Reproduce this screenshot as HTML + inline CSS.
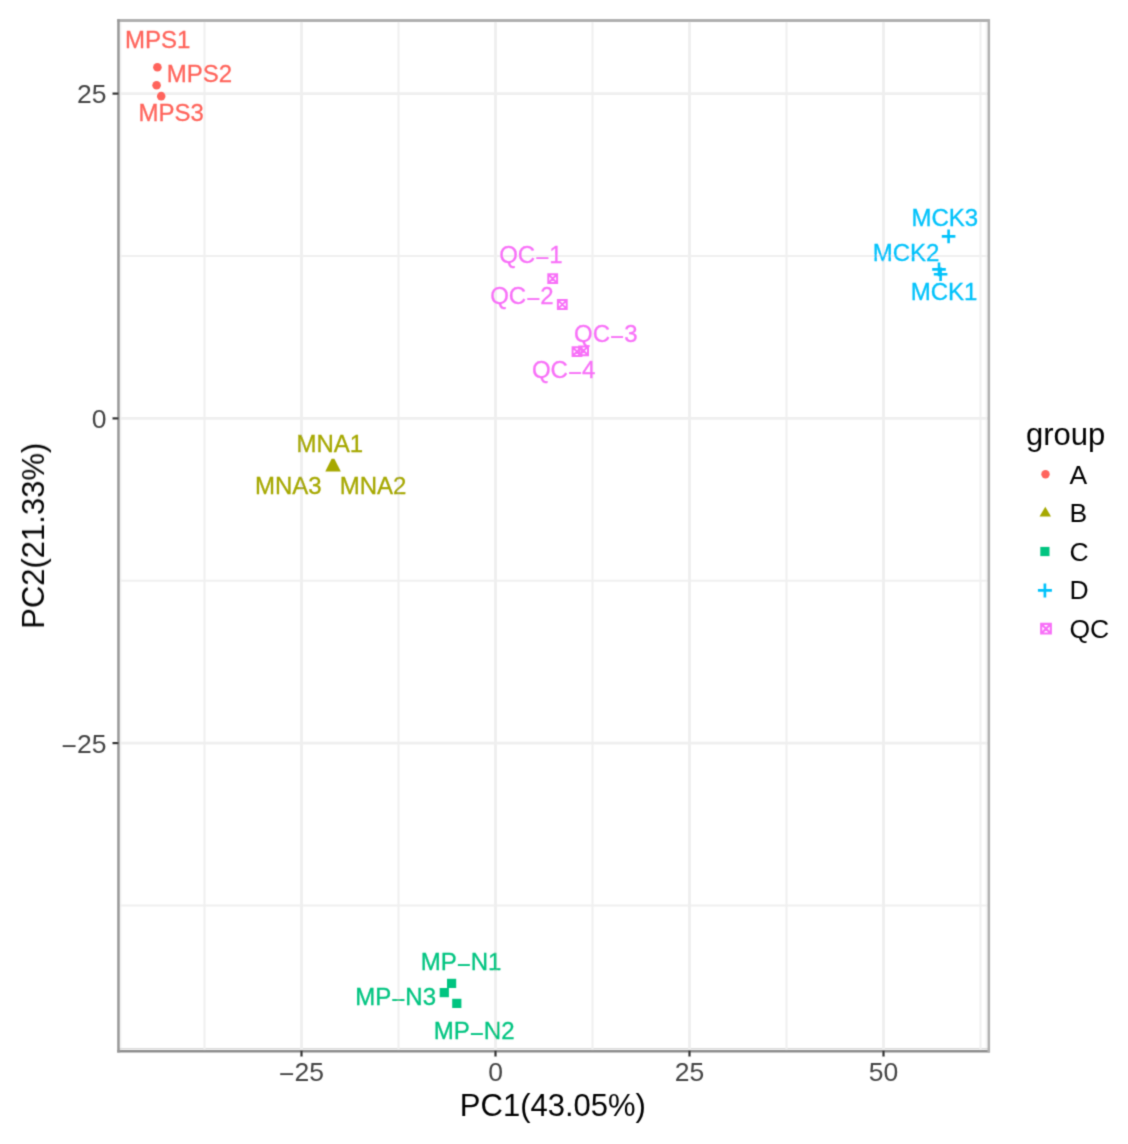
<!DOCTYPE html><html><head><meta charset="utf-8"><style>html,body{margin:0;padding:0;background:#fff;}svg{display:block;}text{font-family:"Liberation Sans",sans-serif;}</style></head><body>
<svg width="1128" height="1144" viewBox="0 0 1128 1144">
<defs><filter id="soft" filterUnits="userSpaceOnUse" x="0" y="0" width="1128" height="1144"><feConvolveMatrix order="3" kernelMatrix="0.062 0.249 0.062 0.249 1 0.249 0.062 0.249 0.062" divisor="2.244" edgeMode="duplicate"/></filter></defs>
<rect x="0" y="0" width="1128" height="1144" fill="#fff"/>
<g filter="url(#soft)">
<line x1="120.7" y1="20.5" x2="120.7" y2="1052.4" stroke="#f2f2f2" stroke-width="1.5"/>
<line x1="986.3" y1="20.5" x2="986.3" y2="1052.4" stroke="#f4f4f4" stroke-width="1.5"/>
<line x1="118.5" y1="1048.6" x2="988.5" y2="1048.6" stroke="#d8d8d8" stroke-width="1.2"/>
<line x1="204.5" y1="20.5" x2="204.5" y2="1050.5" stroke="#f0f0f0" stroke-width="2.0"/>
<line x1="398.5" y1="20.5" x2="398.5" y2="1050.5" stroke="#f0f0f0" stroke-width="2.0"/>
<line x1="592.5" y1="20.5" x2="592.5" y2="1050.5" stroke="#f0f0f0" stroke-width="2.0"/>
<line x1="786.5" y1="20.5" x2="786.5" y2="1050.5" stroke="#f0f0f0" stroke-width="2.0"/>
<line x1="980.5" y1="20.5" x2="980.5" y2="1050.5" stroke="#f0f0f0" stroke-width="2.0"/>
<line x1="118.5" y1="256.0" x2="988.5" y2="256.0" stroke="#f0f0f0" stroke-width="2.0"/>
<line x1="118.5" y1="580.8" x2="988.5" y2="580.8" stroke="#f0f0f0" stroke-width="2.0"/>
<line x1="118.5" y1="905.5" x2="988.5" y2="905.5" stroke="#f0f0f0" stroke-width="2.0"/>
<line x1="301.5" y1="20.5" x2="301.5" y2="1050.5" stroke="#efefef" stroke-width="2.8"/>
<line x1="495.5" y1="20.5" x2="495.5" y2="1050.5" stroke="#efefef" stroke-width="2.8"/>
<line x1="689.5" y1="20.5" x2="689.5" y2="1050.5" stroke="#efefef" stroke-width="2.8"/>
<line x1="883.5" y1="20.5" x2="883.5" y2="1050.5" stroke="#efefef" stroke-width="2.8"/>
<line x1="118.5" y1="93.6" x2="988.5" y2="93.6" stroke="#efefef" stroke-width="2.8"/>
<line x1="118.5" y1="418.4" x2="988.5" y2="418.4" stroke="#efefef" stroke-width="2.8"/>
<line x1="118.5" y1="743.1" x2="988.5" y2="743.1" stroke="#efefef" stroke-width="2.8"/>
<circle cx="157.4" cy="67.2" r="4.3" fill="#FF645B"/>
<circle cx="156.6" cy="85.2" r="4.3" fill="#FF645B"/>
<circle cx="161.2" cy="96.1" r="4.3" fill="#FF645B"/>
<polygon points="325.3,471.4 340.8,471.4 334.4,458.8 331.6,458.8" fill="#A6A800"/>
<rect x="447.0" y="978.8" width="9.2" height="9.2" fill="#00C480"/>
<rect x="439.7" y="988.0" width="9.2" height="9.2" fill="#00C480"/>
<rect x="452.2" y="998.8" width="9.2" height="9.2" fill="#00C480"/>
<path d="M941.8 236.4H955.4M948.6 229.6V243.2" stroke="#00C2FB" stroke-width="2.6" fill="none"/>
<path d="M932.2 269.4H945.8M939.0 262.6V276.2" stroke="#00C2FB" stroke-width="2.6" fill="none"/>
<path d="M933.8 274.2H947.4M940.6 267.4V281.0" stroke="#00C2FB" stroke-width="2.6" fill="none"/>
<path d="M548.3 274.3H557.1V283.1H548.3ZM548.3 274.3L557.1 283.1M557.1 274.3L548.3 283.1" stroke="#F870F8" stroke-width="2.0" fill="none"/>
<path d="M557.9 300.1H566.7V308.9H557.9ZM557.9 300.1L566.7 308.9M566.7 300.1L557.9 308.9" stroke="#F870F8" stroke-width="2.0" fill="none"/>
<path d="M572.6 347.2H581.4V356.0H572.6ZM572.6 347.2L581.4 356.0M581.4 347.2L572.6 356.0" stroke="#F870F8" stroke-width="2.0" fill="none"/>
<path d="M579.2 346.4H588.0V355.2H579.2ZM579.2 346.4L588.0 355.2M588.0 346.4L579.2 355.2" stroke="#F870F8" stroke-width="2.0" fill="none"/>
<text x="157.7" y="48.2" font-size="24" fill="#FF645B" stroke="#FF645B" stroke-width="0.3" text-anchor="middle">MPS1</text>
<text x="199.4" y="82.2" font-size="24" fill="#FF645B" stroke="#FF645B" stroke-width="0.3" text-anchor="middle">MPS2</text>
<text x="171.2" y="121.4" font-size="24" fill="#FF645B" stroke="#FF645B" stroke-width="0.3" text-anchor="middle">MPS3</text>
<text x="329.8" y="451.6" font-size="24" fill="#A6A800" stroke="#A6A800" stroke-width="0.3" text-anchor="middle">MNA1</text>
<text x="288.3" y="493.9" font-size="24" fill="#A6A800" stroke="#A6A800" stroke-width="0.3" text-anchor="middle">MNA3</text>
<text x="373.1" y="493.9" font-size="24" fill="#A6A800" stroke="#A6A800" stroke-width="0.3" text-anchor="middle">MNA2</text>
<text x="530.9" y="262.9" font-size="24" fill="#F870F8" stroke="#F870F8" stroke-width="0.3" text-anchor="middle">QC<tspan dy="3">−</tspan><tspan dy="-3">1</tspan></text>
<text x="521.9" y="304.3" font-size="24" fill="#F870F8" stroke="#F870F8" stroke-width="0.3" text-anchor="middle">QC<tspan dy="3">−</tspan><tspan dy="-3">2</tspan></text>
<text x="605.8" y="342.0" font-size="24" fill="#F870F8" stroke="#F870F8" stroke-width="0.3" text-anchor="middle">QC<tspan dy="3">−</tspan><tspan dy="-3">3</tspan></text>
<text x="563.6" y="378.2" font-size="24" fill="#F870F8" stroke="#F870F8" stroke-width="0.3" text-anchor="middle">QC<tspan dy="3">−</tspan><tspan dy="-3">4</tspan></text>
<text x="944.8" y="226.0" font-size="24" fill="#00C2FB" stroke="#00C2FB" stroke-width="0.3" text-anchor="middle">MCK3</text>
<text x="906.0" y="261.0" font-size="24" fill="#00C2FB" stroke="#00C2FB" stroke-width="0.3" text-anchor="middle">MCK2</text>
<text x="944.0" y="300.3" font-size="24" fill="#00C2FB" stroke="#00C2FB" stroke-width="0.3" text-anchor="middle">MCK1</text>
<text x="461.1" y="970.3" font-size="24" fill="#00C480" stroke="#00C480" stroke-width="0.3" text-anchor="middle">MP<tspan dy="3">−</tspan><tspan dy="-3">N1</tspan></text>
<text x="395.7" y="1004.6" font-size="24" fill="#00C480" stroke="#00C480" stroke-width="0.3" text-anchor="middle">MP<tspan dy="3">−</tspan><tspan dy="-3">N3</tspan></text>
<text x="474.2" y="1038.9" font-size="24" fill="#00C480" stroke="#00C480" stroke-width="0.3" text-anchor="middle">MP<tspan dy="3">−</tspan><tspan dy="-3">N2</tspan></text>
<line x1="117.2" y1="20.5" x2="989.8" y2="20.5" stroke="#b0b0b0" stroke-width="2.8"/>
<line x1="117.2" y1="1051.2" x2="989.8" y2="1051.2" stroke="#8c8c8c" stroke-width="2.4"/>
<line x1="118.5" y1="19.2" x2="118.5" y2="1052.4" stroke="#999999" stroke-width="2.6"/>
<line x1="988.8" y1="19.2" x2="988.8" y2="1052.4" stroke="#b0b0b0" stroke-width="2.6"/>
<line x1="301.5" y1="1050.5" x2="301.5" y2="1056.5" stroke="#333" stroke-width="2.2"/>
<line x1="495.5" y1="1050.5" x2="495.5" y2="1056.5" stroke="#333" stroke-width="2.2"/>
<line x1="689.5" y1="1050.5" x2="689.5" y2="1056.5" stroke="#333" stroke-width="2.2"/>
<line x1="883.5" y1="1050.5" x2="883.5" y2="1056.5" stroke="#333" stroke-width="2.2"/>
<line x1="112.5" y1="93.6" x2="118.5" y2="93.6" stroke="#333" stroke-width="2.2"/>
<line x1="112.5" y1="418.4" x2="118.5" y2="418.4" stroke="#333" stroke-width="2.2"/>
<line x1="112.5" y1="743.1" x2="118.5" y2="743.1" stroke="#333" stroke-width="2.2"/>
<text x="301.5" y="1080.5" font-size="26.5" fill="#444444" text-anchor="middle"><tspan dy="2.5">−</tspan><tspan dy="-2.5">25</tspan></text>
<text x="495.5" y="1080.5" font-size="26.5" fill="#444444" text-anchor="middle">0</text>
<text x="689.5" y="1080.5" font-size="26.5" fill="#444444" text-anchor="middle">25</text>
<text x="883.5" y="1080.5" font-size="26.5" fill="#444444" text-anchor="middle">50</text>
<text x="106.5" y="103.2" font-size="26.5" fill="#444444" text-anchor="end">25</text>
<text x="106.5" y="428.0" font-size="26.5" fill="#444444" text-anchor="end">0</text>
<text x="106.5" y="752.8" font-size="26.5" fill="#444444" text-anchor="end"><tspan dy="2.5">−</tspan><tspan dy="-2.5">25</tspan></text>
<text x="552.9" y="1116" font-size="31" fill="#000" text-anchor="middle">PC1(43.05%)</text>
<text transform="translate(44,535.8) rotate(-90)" x="0" y="0" font-size="31" fill="#000" text-anchor="middle">PC2(21.33%)</text>
<text x="1026" y="445" font-size="31" fill="#000">group</text>
<circle cx="1045.5" cy="474.3" r="4.2" fill="#FF645B"/>
<polygon points="1039.5,516.6 1051.0,516.6 1045.3,506.7" fill="#A6A800"/>
<rect x="1040.3" y="546.9" width="9.2" height="9.2" fill="#00C480"/>
<path d="M1037.9 590.4H1051.9M1044.9 583.4V597.4" stroke="#00C2FB" stroke-width="2.7" fill="none"/>
<path d="M1041.2 623.9H1050.8V633.5H1041.2ZM1041.2 623.9L1050.8 633.5M1050.8 623.9L1041.2 633.5" stroke="#F870F8" stroke-width="2.2" fill="none"/>
<text x="1069.5" y="484.2" font-size="26.5" fill="#000">A</text>
<text x="1069.5" y="522.3" font-size="26.5" fill="#000">B</text>
<text x="1069.5" y="560.8" font-size="26.5" fill="#000">C</text>
<text x="1069.5" y="599.2" font-size="26.5" fill="#000">D</text>
<text x="1069.5" y="638.2" font-size="26.5" fill="#000">QC</text>
</g></svg></body></html>
